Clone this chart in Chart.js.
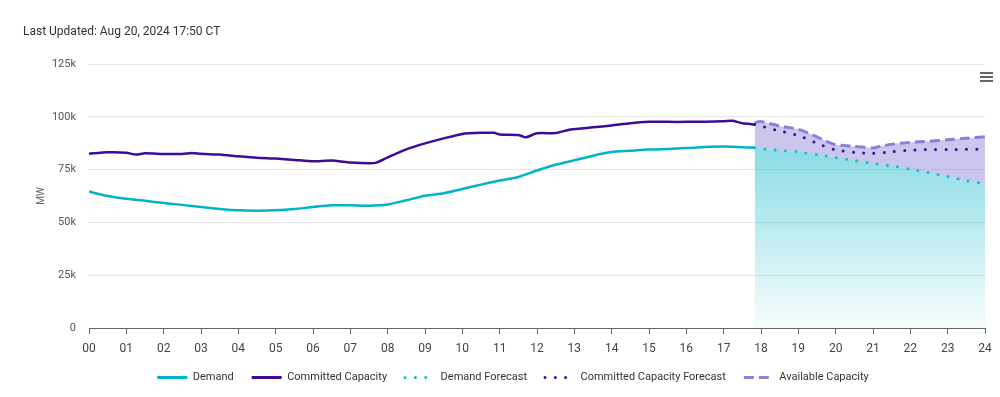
<!DOCTYPE html>
<html>
<head>
<meta charset="utf-8">
<script src="https://cdn.jsdelivr.net/npm/chart.js@4.4.1/dist/chart.umd.min.js"></script>
<style>
  html, body { margin: 0; padding: 0; background: #fff; }
  #wrap { position: relative; width: 1000px; height: 397px; overflow: hidden; }
  #updated { position: absolute; left: 23px; top: 24px; font: 12px Roboto, sans-serif; color: #333; white-space: nowrap; }
  #menu { position: absolute; left: 980px; top: 72px; width: 13px; }
  #menu div { height: 2px; background: #666; margin-bottom: 2px; }
  canvas { position: absolute; left: 0; top: 0; }
</style>
</head>
<body>
<div id="wrap">
  <canvas id="c" width="1000" height="397"></canvas>
  <div id="updated">Last Updated: Aug 20, 2024 17:50 CT</div>
  <div id="menu"><div></div><div></div><div></div></div>
</div>
<script>
// ---- data (hour of day, MW) ----
const demandHours = [0,0.5,1,1.5,2,2.5,3,3.5,4,4.5,5,5.5,6,6.5,7,7.5,8,8.5,9,9.5,10,10.5,11,11.5,12,12.5,13,13.5,14,14.5,15,15.5,16,16.5,17,17.5,17.83];
const demandMW = [64600,62500,61200,60200,59200,58300,57300,56400,55700,55500,55700,56300,57300,58100,58100,57900,58500,60500,62600,63800,65800,67900,69800,71500,74600,77300,79400,81600,83300,83900,84500,84800,85200,85700,85900,85600,85400];

const committedHours = [0,0.5,1,1.25,1.5,2,2.5,2.75,3,3.5,4,4.5,5,5.5,6,6.5,7,7.5,7.7,8,8.5,9,9.5,10,10.5,10.85,11,11.5,11.7,12,12.5,12.9,13.5,14,14.5,15,15.5,16,16.5,17,17.25,17.5,17.83];
const committedMW = [82500,83200,83000,82100,82700,82400,82400,82900,82500,82100,81300,80600,80200,79600,78900,79300,78400,78000,78300,80800,84600,87400,89800,91900,92400,92400,91600,91400,90300,92200,92300,94000,95000,95900,97000,97600,97600,97600,97700,97900,98100,96900,96400];

const forecastHours = [17.83,18,18.5,19,19.5,20,20.5,21,21.5,22,22.5,23,23.5,24];
const demandForecastMW = [85400,85000,84100,83400,82100,80700,79400,77900,76800,75200,73500,71800,69800,68200];
const committedForecastMW = [96400,95600,93300,91200,87500,84300,83200,82700,83500,84200,84500,84500,84600,84600];

const availableHours = [17.83,17.98,18.5,19,19.36,19.72,20,20.5,21,21.2,21.6,22,22.5,23,23.5,24];
const availableMW = [97200,97800,95600,94100,91600,88700,86800,86000,85200,86100,87200,87900,88400,89100,89800,90600];

const seriesLabels = ['Demand','Committed Capacity','Demand Forecast','Committed Capacity Forecast','Available Capacity'];
const yTicks = [0,25000,50000,75000,100000,125000];
const xTickHours = [0,1,2,3,4,5,6,7,8,9,10,11,12,13,14,15,16,17,18,19,20,21,22,23,24];

const pts = (xs, ys) => xs.map((x, i) => ({x, y: ys[i]}));

const FONT = 'Roboto, sans-serif';
const cyan = '#00b4c8';
const purple = '#3e0b94';
const lav = '#8a80d6';

function cyanGradient(ctx) {
  const chart = ctx.chart;
  const {chartArea, scales} = chart;
  if (!chartArea) return 'rgba(0,180,200,0.4)';
  const g = chart.ctx.createLinearGradient(0, scales.y.getPixelForValue(88000), 0, chartArea.bottom);
  g.addColorStop(0, 'rgba(0,180,200,0.47)');
  g.addColorStop(1, 'rgba(0,180,200,0.03)');
  return g;
}

new Chart(document.getElementById('c'), {
  type: 'line',
  data: {
    datasets: [
      { label: seriesLabels[0], data: pts(demandHours, demandMW), borderColor: cyan, backgroundColor: cyan,
        borderWidth: 2.5, pointRadius: 0, fill: false, tension: 0.2 },
      { label: seriesLabels[1], data: pts(committedHours, committedMW), borderColor: purple, backgroundColor: purple,
        borderWidth: 2.5, pointRadius: 0, fill: false, tension: 0.2 },
      { label: seriesLabels[2], data: pts(forecastHours, demandForecastMW), borderColor: '#19b9c9', backgroundColor: cyanGradient,
        borderWidth: 3, borderDash: [0, 10.3], borderCapStyle: 'round', pointRadius: 0, fill: 'origin', tension: 0.2 },
      { label: seriesLabels[3], data: pts(forecastHours, committedForecastMW), borderColor: purple, backgroundColor: purple,
        borderWidth: 3, borderDash: [0, 10.3], borderCapStyle: 'round', pointRadius: 0, fill: false, tension: 0.2 },
      { label: seriesLabels[4], data: pts(availableHours, availableMW), borderColor: lav, backgroundColor: 'rgba(138,128,214,0.45)',
        borderWidth: 3, borderDash: [10, 5], pointRadius: 0, fill: 2, tension: 0.2 }
    ]
  },
  options: {
    responsive: false,
    animation: false,
    events: [],
    layout: { padding: { left: 41, right: 15, top: 64, bottom: 4 } },
    scales: {
      x: {
        type: 'linear', min: 0, max: 24,
        afterBuildTicks: (s) => { s.ticks = xTickHours.map(v => ({value: v})); },
        afterFit: (s) => { s.height = 26; },
        grid: { drawOnChartArea: false, drawTicks: true, tickLength: 6, color: '#666', lineWidth: 1 },
        border: { display: true, color: '#666', width: 1 },
        ticks: { padding: 8, color: '#444', font: { family: FONT, size: 12 }, maxRotation: 0, autoSkip: false,
          callback: (v) => String(v).padStart(2, '0') }
      },
      y: {
        min: 0, max: 125000,
        afterBuildTicks: (s) => { s.ticks = yTicks.map(v => ({value: v})); },
        afterFit: (s) => { s.width = 48; },
        grid: { color: '#e6e6e6', drawTicks: false, lineWidth: 1 },
        border: { display: false },
        ticks: { padding: 13, color: '#555', font: { family: FONT, size: 11 },
          callback: (v) => v === 0 ? '0' : (v / 1000) + 'k' },
        title: { display: true, text: 'MW', color: '#666', font: { family: FONT, size: 10 }, padding: { top: -6, bottom: 0 } }
      }
    },
    plugins: {
      tooltip: { enabled: false },
      legend: {
        position: 'bottom',
        maxHeight: 45,
        labels: {
          usePointStyle: true,
          pointStyleWidth: 30,
          padding: 18,
          color: '#333',
          font: { family: FONT, size: 11 },
          generateLabels: (chart) => chart.data.datasets.map((ds, i) => ({
            text: ds.label,
            strokeStyle: ds.borderColor,
            fillStyle: ds.borderColor,
            lineWidth: 3,
            lineDash: ds.borderDash || [],
            lineCap: ds.borderCapStyle || 'butt',
            pointStyle: 'line',
            datasetIndex: i,
            hidden: false,
            fontColor: '#333'
          }))
        }
      }
    }
  }
});
</script>
</body>
</html>
